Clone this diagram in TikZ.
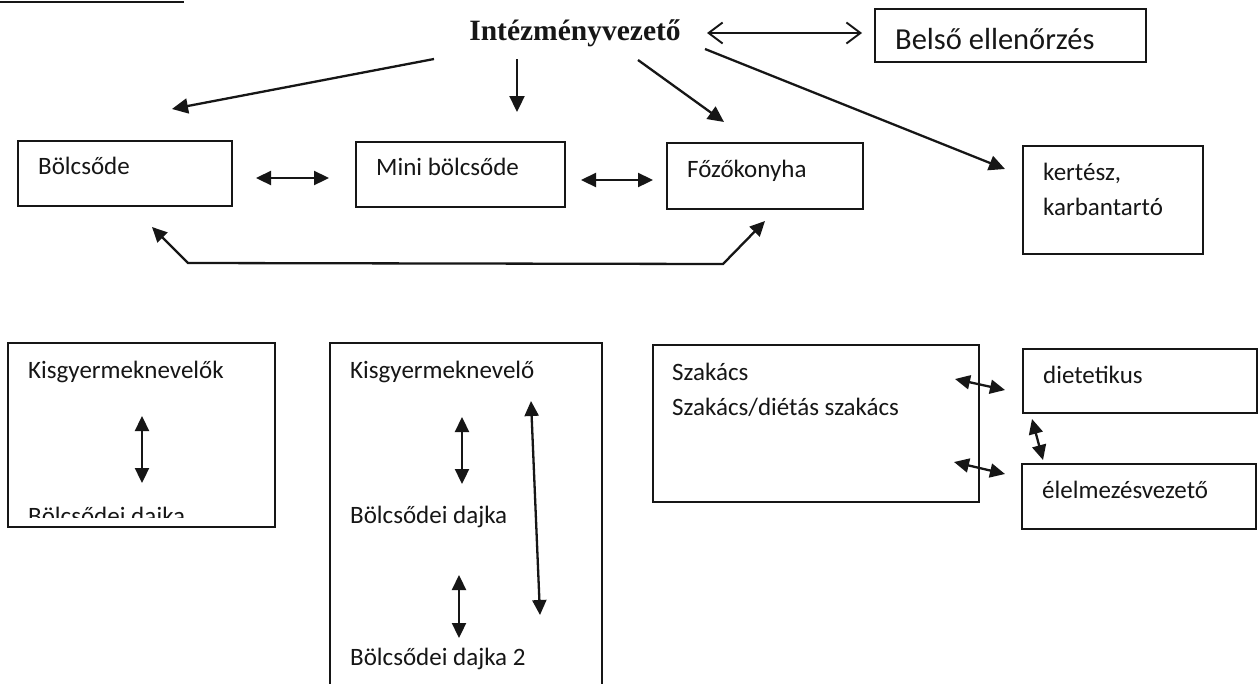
\documentclass[tikz,border=0pt]{standalone}
\usepackage{fontspec}
\setmainfont{Carlito}
\newfontfamily\titlefont{Liberation Serif}
\usetikzlibrary{arrows.meta}
\definecolor{inkc}{RGB}{22,22,22}
\begin{document}
\begin{tikzpicture}[x=1pt,y=-1pt,
  box/.style={draw=inkc, line width=2.6pt, rectangle, inner sep=0pt, outer sep=0pt, anchor=north west},
  lbl/.style={anchor=base west, inner sep=0pt, text=inkc, font=\fontsize{25}{30}\selectfont},
  arr/.style={draw=inkc, line width=2.3pt, -{Triangle[length=16pt,width=15pt]}},
  darr/.style={draw=inkc, line width=2.3pt, {Triangle[length=15pt,width=14pt]}-{Triangle[length=15pt,width=14pt]}},
  oarr/.style={draw=inkc, line width=1.9pt, {Straight Barb[length=14pt,width=21pt,line width=1.9pt]}-{Straight Barb[length=14pt,width=21pt,line width=1.9pt]}},
]
\clip (0,0) rectangle (1260,683);
\fill[white] (0,0) rectangle (1260,683);

% top-left underline
\coordinate (ul1) at (0,2);
\coordinate (ul2) at (184,2);
\draw[draw=inkc, line width=2.4pt] (ul1) -- (ul2);

% title
\node[anchor=base, inner sep=0pt, text=inkc, font=\titlefont\bfseries\fontsize{29.5}{34}\selectfont] (title) at (575,40) {Intézményvezető};

% boxes
\node[box, minimum width=271pt, minimum height=53pt] (belso) at (875,9) {};
\node[box, minimum width=214pt, minimum height=65pt] (bolcs) at (18,141) {};
\node[box, minimum width=209pt, minimum height=65pt] (mini) at (356,142) {};
\node[box, minimum width=196pt, minimum height=66pt] (fozo) at (667,143) {};
\node[box, minimum width=180pt, minimum height=108pt] (kert) at (1023,146) {};
\node[box, minimum width=267pt, minimum height=184pt] (kis1) at (8,343) {};
\node[box, minimum width=272pt, minimum height=370pt] (kis2) at (330,343) {};
\node[box, minimum width=326pt, minimum height=157pt] (szak) at (653,345) {};
\node[box, minimum width=234pt, minimum height=64pt] (diet) at (1023,349) {};
\node[box, minimum width=234pt, minimum height=65pt] (elel) at (1022,464) {};

% texts
\node[lbl, font=\fontsize{30.5}{36}\selectfont] (tbelso) at (895,49) {Belső ellenőrzés};
\node[lbl] (tbolcs) at (38,174) {Bölcsőde};
\node[lbl] (tmini) at (376,175) {Mini bölcsőde};
\node[lbl] (tfozo) at (687,177) {Főzőkonyha};
\node[lbl] (tkert1) at (1043,180) {kertész,};
\node[lbl] (tkert2) at (1043,215) {karbantartó};
\node[lbl] (tkis1) at (28,378) {Kisgyermeknevelők};
\begin{scope}
  \clip (8,343) rectangle (275,517);
  \node[lbl] (tdaj0) at (28,524) {Bölcsődei dajka};
\end{scope}
\node[lbl] (tkis2) at (350,378) {Kisgyermeknevelő};
\node[lbl] (tdaj1) at (350,523) {Bölcsődei dajka};
\node[lbl] (tdaj2) at (350,665) {Bölcsődei dajka 2};
\node[lbl] (tszak1) at (672,380) {Szakács};
\node[lbl] (tszak2) at (672,415) {Szakács/diétás szakács};
\node[lbl] (tdiet) at (1043,383) {dietetikus};
\node[lbl] (telel) at (1042,498) {élelmezésvezető};

% arrow end points
\coordinate (a1s) at (434,59);   \coordinate (a1e) at (172,109);
\coordinate (a2s) at (517,59);   \coordinate (a2e) at (517,112);
\coordinate (a3s) at (638,60);   \coordinate (a3e) at (724,122);
\coordinate (a4s) at (705,49);   \coordinate (a4e) at (1005,169);
\coordinate (b1s) at (707,33);   \coordinate (b1e) at (862,33);
\coordinate (c1s) at (256,178);  \coordinate (c1e) at (329,178);
\coordinate (c2s) at (581,180);  \coordinate (c2e) at (653,180);
\coordinate (d1) at (152,227);   \coordinate (d2) at (188,263);
\coordinate (d3) at (723,264);   \coordinate (d4) at (765,221);
\coordinate (e1s) at (142,416);  \coordinate (e1e) at (142,483);
\coordinate (e2s) at (462,417);  \coordinate (e2e) at (462,484);
\coordinate (e3s) at (459,575);  \coordinate (e3e) at (459,638);
\coordinate (e4s) at (531,401);  \coordinate (e4e) at (540,615);
\coordinate (f1s) at (955,379);  \coordinate (f1e) at (1005,390);
\coordinate (f2s) at (954,462);  \coordinate (f2e) at (1005,474);
\coordinate (f3s) at (1032,419); \coordinate (f3e) at (1043,460);

% connectors
\draw[arr] (a1s) -- (a1e);
\draw[arr] (a2s) -- (a2e);
\draw[arr] (a3s) -- (a3e);
\draw[arr] (a4s) -- (a4e);
\draw[oarr] (b1s) -- (b1e);
\draw[darr] (c1s) -- (c1e);
\draw[darr] (c2s) -- (c2e);
\draw[darr, line join=miter] (d1) -- (d2) -- (d3) -- (d4);
\draw[darr] (e1s) -- (e1e);
\draw[darr] (e2s) -- (e2e);
\draw[darr] (e3s) -- (e3e);
\draw[darr] (e4s) -- (e4e);
\draw[darr] (f1s) -- (f1e);
\draw[darr] (f2s) -- (f2e);
\draw[darr] (f3s) -- (f3e);
\end{tikzpicture}
\end{document}
